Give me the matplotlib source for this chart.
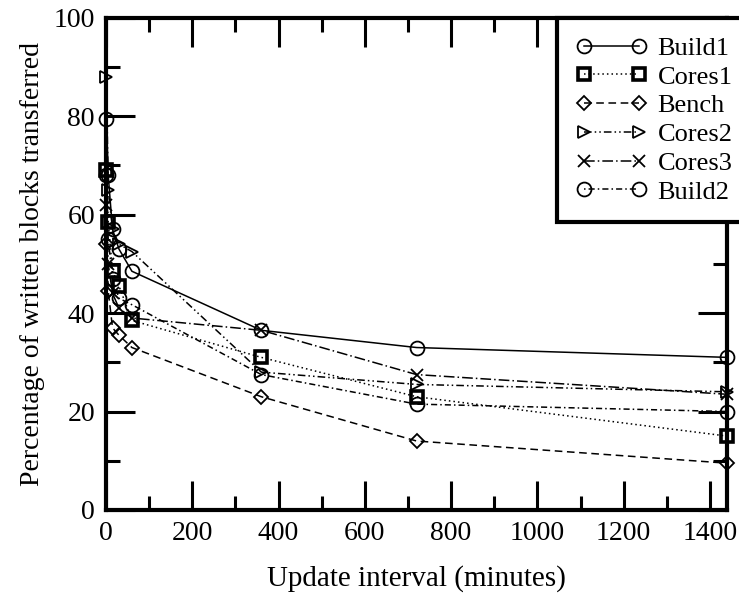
import matplotlib
matplotlib.use("Agg")
import matplotlib.pyplot as plt
from matplotlib.ticker import MultipleLocator

# update interval in minutes
intervals = [1, 5, 15, 30, 60, 360, 720, 1440]

build1 = [79.5, 68, 57, 53, 48.5, 36.5, 33, 31]
cores1 = [69, 58.5, 48.5, 45.5, 38.5, 31, 23, 15]
bench = [54, 44.5, 37, 35.5, 33, 23, 14, 9.5]
cores2 = [88, 65, 57, 54, 52.5, 28, 25.5, 24]
cores3 = [62, 50, 44, 41, 39, 36.5, 27.5, 23.5]
build2 = [68, 55, 47, 43, 41.7, 27.5, 21.5, 20]

series = [
    ("Build1", build1, "o", "-", 10, 1.3),
    ("Cores1", cores1, "s", (0, (1, 2)), 9, 2.6),
    ("Bench", bench, "D", (0, (5, 3)), 7, 1.3),
    ("Cores2", cores2, ">", (0, (5, 2, 1, 2, 1, 2)), 9, 1.3),
    ("Cores3", cores3, "x", (0, (7, 2, 1, 2)), 8, 1.3),
    ("Build2", build2, "o", (0, (1, 2, 4, 2)), 10, 1.3),
]

plt.rcParams['font.family'] = ['Liberation Serif', 'DejaVu Serif']

fig = plt.figure(figsize=(7.39, 5.95), dpi=100)
ax = fig.add_axes([0.1435, 0.143, 0.8405, 0.827])

for name, vals, mk, ls, ms, mew in series:
    ax.plot(intervals, vals, color='black', linestyle=ls, linewidth=1.1,
            marker=mk, markersize=ms, markerfacecolor='none',
            markeredgewidth=mew, label=name, clip_on=False)

ax.set_xlim(0, 1440)
ax.set_ylim(0, 100)
ax.xaxis.set_major_locator(MultipleLocator(200))
ax.xaxis.set_minor_locator(MultipleLocator(100))
ax.yaxis.set_major_locator(MultipleLocator(20))
ax.yaxis.set_minor_locator(MultipleLocator(10))
ax.tick_params(which='both', direction='in', top=True, right=True,
               width=2.2, labelsize=20, pad=8)
ax.tick_params(which='major', length=21)
ax.tick_params(which='minor', length=10)
for sp in ax.spines.values():
    sp.set_linewidth(3)

ax.set_xlabel('Update interval (minutes)', fontsize=21, labelpad=14)
ax.set_ylabel('Percentage of written blocks transferred', fontsize=20, labelpad=6)

leg = fig.legend(loc='upper left', bbox_to_anchor=(0.754, 0.970),
                 fontsize=19, numpoints=2, handlelength=2.7,
                 labelspacing=0.2, borderaxespad=0, fancybox=False,
                 framealpha=1, edgecolor='black', borderpad=0.7,
                 handletextpad=0.4)
leg.get_frame().set_linewidth(3)

fig.savefig('out.png', dpi=100)
